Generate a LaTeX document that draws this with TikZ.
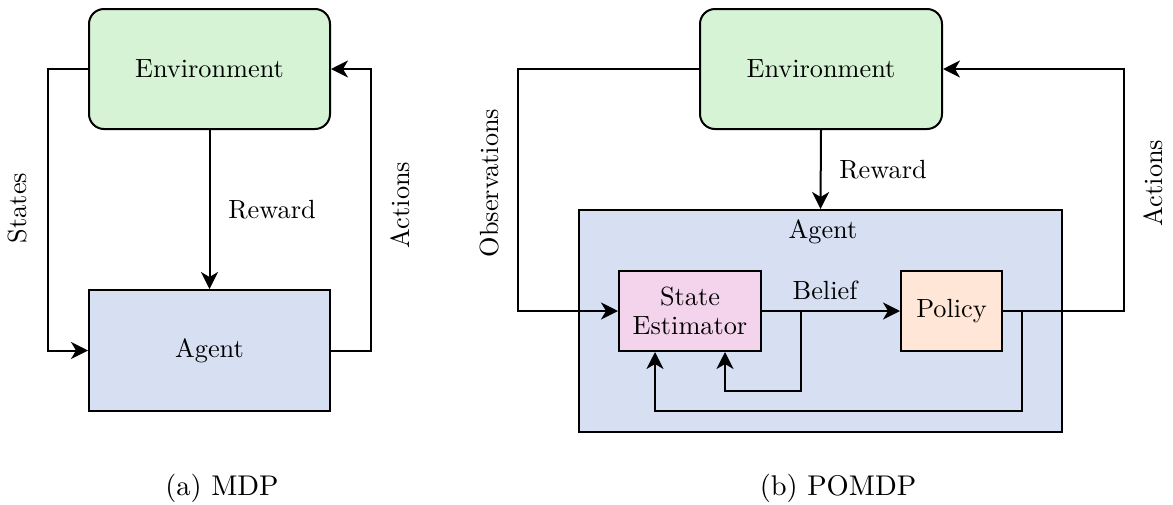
\documentclass[tikz,border=0pt]{standalone}
\usepackage{fontspec}
\setmainfont{lmroman10-regular}[Extension=.otf]
\usetikzlibrary{arrows.meta}
\definecolor{envgreen}{RGB}{214,243,213}
\definecolor{agentblue}{RGB}{214,224,242}
\definecolor{estpink}{RGB}{244,212,236}
\definecolor{polpeach}{RGB}{255,230,214}
\newcommand\diagsize{\fontsize{26.3}{29}\selectfont}
\tikzset{
  box/.style={draw=black, line width=2pt, inner sep=0pt, align=center,
              font=\diagsize},
  envbox/.style={box, fill=envgreen, rounded corners=15pt,
                 minimum width=241pt, minimum height=120pt},
  agentbox/.style={box, fill=agentblue},
  lbl/.style={inner sep=0pt, font=\diagsize},
  caption/.style={inner sep=0pt, font=\fontsize{28.5}{31}\selectfont},
  arr/.style={draw=black, line width=2pt,
              -{Stealth[length=17pt, width=17pt, inset=5pt]}}
}
\begin{document}
\begin{tikzpicture}[x=1pt, y=-1pt]
\useasboundingbox (0,0) rectangle (1173,504);

% ---------- (a) MDP ----------
\node[envbox] (envA) at (209.5,69) {Environment};
\node[agentbox, minimum width=241pt, minimum height=121pt] (agentA) at (209.5,350.5) {Agent};

\draw[arr] (envA.west) -- ++(-40,0) |- (agentA.west);
\draw[arr] (agentA.east) -- ++(40,0) |- (envA.east);
\draw[arr] (envA.south) -- (agentA.north);

\node[lbl, rotate=90] (statesA) at (18,208) {States};
\node[lbl, rotate=90] (actionsA) at (400,205) {Actions};
\node[lbl] (rewardA) at (272,210) {Reward};
\node[caption] (capA) at (222,488) {(a) MDP};

% ---------- (b) POMDP ----------
\node[envbox, minimum width=242pt] (envB) at (821,69) {Environment};
\node[agentbox, minimum width=483pt, minimum height=222pt] (agentB) at (820.5,321) {};
\node[lbl] (agentBtitle) at (823,232) {Agent};

\node[box, fill=estpink, minimum width=142pt, minimum height=80pt] (est) at (690,311)
  {State\\[0pt]Estimator};
\node[box, fill=polpeach, minimum width=101pt, minimum height=80pt] (pol) at (951.5,311)
  {Policy};

% observations into the estimator
\draw[arr] (envB.west) -- ++(-181,0) |- (est.west);
% reward into the agent
\draw[arr] (envB.south) -- (agentB.north);
% belief to the policy
\draw[arr] (est.east) -- (pol.west);
% belief fed back to the estimator
\coordinate (b1) at (801,311);
\coordinate (b2) at (725,391);
\draw[arr] (b1) |- (b2) -- (b2 |- est.south);
% action fed back to the estimator
\coordinate (p1) at (1022,311);
\coordinate (p2) at (655,411);
\draw[arr] (pol.east) -- (p1) |- (p2) -- (p2 |- est.south);
% actions back to the environment
\draw[arr] (pol.east) -- ++(121,0) |- (envB.east);

\node[lbl] (beliefB) at (825,290) {Belief};
\node[lbl] (rewardB) at (883,170) {Reward};
\node[lbl, rotate=90] (obsB) at (490,183) {Observations};
\node[lbl, rotate=90] (actionsB) at (1153,183) {Actions};
\node[caption] (capB) at (838,488) {(b) POMDP};
\end{tikzpicture}
\end{document}
